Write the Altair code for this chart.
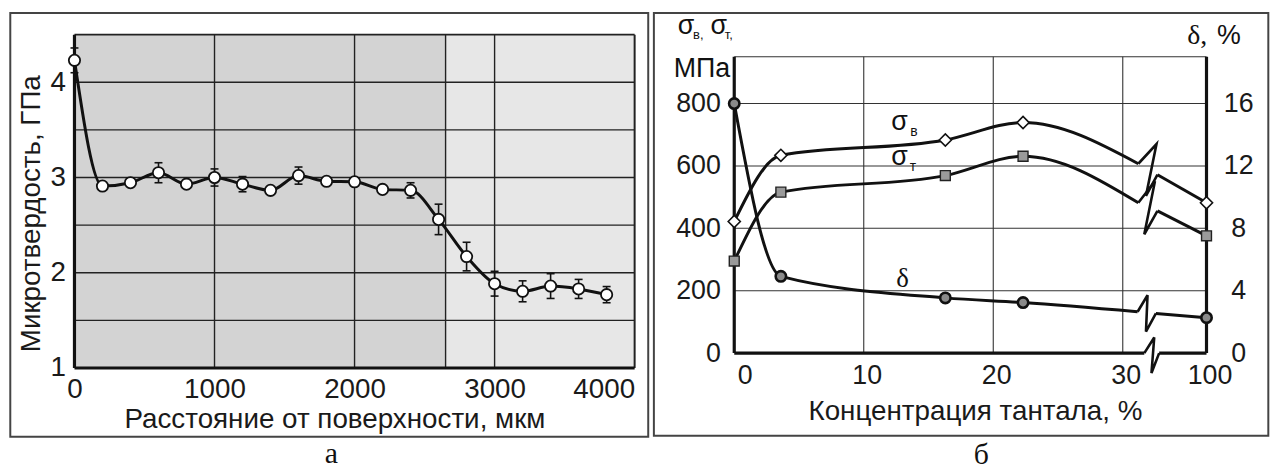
import altair as alt
import pandas as pd

FONT = "Liberation Sans"
SERIF = "Liberation Serif"
TXT = "#1a1a1a"

# ---------------- panel а : microhardness profile ----------------
dist = [0, 200, 400, 600, 800, 1000, 1200, 1400, 1600, 1800,
        2000, 2200, 2400, 2600, 2800, 3000, 3200, 3400, 3600, 3800]
hardness = [4.23, 2.91, 2.945, 3.05, 2.93, 3.00, 2.93, 2.865, 3.02, 2.96,
            2.955, 2.875, 2.865, 2.56, 2.17, 1.885, 1.805, 1.86, 1.83, 1.77]
hard_err = [0.13, 0.02, 0.02, 0.105, 0.02, 0.09, 0.08, 0.02, 0.09, 0.02,
            0.02, 0.03, 0.08, 0.16, 0.15, 0.13, 0.11, 0.13, 0.10, 0.085]
zone_start = [0, 2650]
zone_end = [2650, 4000]
zone_fill = ["#d3d3d3", "#e7e7e7"]
a_grid_y = [1.5, 2, 2.5, 3, 3.5, 4]
a_grid_x = [1000, 2000, 2650, 3000]
a_ticks_x = [0, 1000, 2000, 3000, 4000]
a_ticks_y = [1, 2, 3, 4]
a_xdom = [0, 4000]
a_ydom = [1, 4.5]

# ---------------- panel б : properties vs tantalum ----------------
conc = [0, 3.6, 16.3, 22.3, 100]
sigma_b = [422, 634, 683, 739, 482]
sigma_t = [295, 516, 569, 631, 376]
delta = [16.0, 4.92, 3.54, 3.24, 2.27]
# axis-break (zig-zag) vertices, in data units
brk_b_x = [43.0, 58.2, 49.4, 59.0]
brk_b_y = [607, 670, 504, 572]
brk_t_x = [43.0, 56.9, 48.0, 59.0]
brk_t_y = [482, 551, 381, 456]
brk_d_x = [42.4, 50.7, 49.4, 57.7]
brk_d_y = [2.65, 3.71, 1.38, 2.54]
brk_ax_x = [48.0, 56.3, 54.0, 60.4]
brk_ax_y = [0, 50, -64, 0]
b_grid_y = [200, 400, 600, 800]
b_grid_x = [10, 20, 30]
b_ticks_x = [0, 10, 20, 30, 100]
b_ticks_s = [0, 200, 400, 600, 800]
b_ticks_d = [0, 4, 8, 12, 16]
b_xdom = [0, 30, 100]
b_sdom = [0, 950]
b_ddom = [0, 19]

AW, AH = 564.6, 336
BW, BH = 476, 298.7
OFF = 22.3            # right plot sits lower than the left one
BH2 = BH + OFF
dummy = pd.DataFrame({"k": [0]})

# ---------- helpers panel а ----------
sc_ax = alt.Scale(domain=a_xdom, nice=False, zero=False)
sc_ay = alt.Scale(domain=a_ydom, nice=False, zero=False)
axis_ax = alt.Axis(values=a_ticks_x, format="d", grid=False, domain=False, ticks=False, labelFlush=False,
                   labelFont=FONT, labelFontSize=28, labelPadding=8, labelColor=TXT,
                   labelAlign={"condition": {"test": "datum.value === 4000", "value": "right"}, "value": "center"},
                   title="Расстояние от поверхности, мкм", titleFont=FONT, titleFontSize=28,
                   titleFontWeight="normal", titleColor=TXT, titleX=262, titleY=60,
                   titleAlign="center", titleBaseline="alphabetic")
axis_ay = alt.Axis(values=a_ticks_y, format="d", grid=False, domain=False, ticks=False,
                   labelFont=FONT, labelFontSize=28, labelPadding=9, labelColor=TXT,
                   title="Микротвердость, ГПа", titleFont=FONT, titleFontSize=28,
                   titleFontWeight="normal", titleColor=TXT, titleX=-35, titleY=180,
                   titleAngle=270, titleAlign="center", titleBaseline="alphabetic")


def AX(f):
    return alt.X(f, scale=sc_ax, axis=axis_ax)


def AY(f):
    return alt.Y(f, scale=sc_ay, axis=axis_ay)


df_a = pd.DataFrame({"dist": dist, "hv": hardness, "err": hard_err})
df_a["lo"] = df_a["hv"] - df_a["err"]
df_a["hi"] = df_a["hv"] + df_a["err"]
df_zone = pd.DataFrame({"s": zone_start, "e": zone_end, "c": zone_fill})

shade = alt.Chart(df_zone).mark_rect().encode(
    x=AX("s:Q"), x2="e:Q",
    y=alt.Y(datum=a_ydom[1], scale=sc_ay, axis=axis_ay), y2=alt.Y2(datum=a_ydom[0]),
    fill=alt.Fill("c:N", scale=None))
grid_ya = alt.Chart(pd.DataFrame({"v": a_grid_y})).mark_rule(color="#222", strokeWidth=1.4).encode(y=AY("v:Q"))
grid_xa = alt.Chart(pd.DataFrame({"v": a_grid_x})).mark_rule(color="#222", strokeWidth=1.4).encode(x=AX("v:Q"))
bord_top = alt.Chart(pd.DataFrame({"v": [a_ydom[1]]})).mark_rule(color="#222", strokeWidth=2).encode(y=AY("v:Q"))
bord_right = alt.Chart(pd.DataFrame({"v": [a_xdom[1]]})).mark_rule(color="#222", strokeWidth=2).encode(x=AX("v:Q"))
bord_left = alt.Chart(pd.DataFrame({"v": [a_xdom[0]]})).mark_rule(color="#111", strokeWidth=3.2).encode(x=AX("v:Q"))
bord_bot = alt.Chart(pd.DataFrame({"v": [a_ydom[0]]})).mark_rule(color="#111", strokeWidth=3.2).encode(y=AY("v:Q"))
line_a = alt.Chart(df_a).mark_line(interpolate="monotone", color="#111", strokeWidth=3).encode(x=AX("dist:Q"), y=AY("hv:Q"))
err_a = alt.Chart(df_a).mark_rule(color="#111", strokeWidth=1.6).encode(x=AX("dist:Q"), y=AY("lo:Q"), y2="hi:Q")
cap_lo = alt.Chart(df_a).mark_tick(orient="horizontal", size=8, thickness=1.6, color="#111", opacity=1).encode(x=AX("dist:Q"), y=AY("lo:Q"))
cap_hi = alt.Chart(df_a).mark_tick(orient="horizontal", size=8, thickness=1.6, color="#111", opacity=1).encode(x=AX("dist:Q"), y=AY("hi:Q"))
pts_a = alt.Chart(df_a).mark_point(shape="circle", filled=True, fill="white", stroke="#111",
                                   strokeWidth=1.8, size=130, opacity=1).encode(x=AX("dist:Q"), y=AY("hv:Q"))
box_a = alt.Chart(dummy).mark_rect(fill="white", fillOpacity=0, stroke="#444", strokeWidth=2).encode(
    x=alt.value(-64.7), x2=alt.value(578.3), y=alt.value(-21.7), y2=alt.value(405.3))
lab_a = alt.Chart(dummy).mark_text(text="а", font=SERIF, fontSize=30, color="#111",
                                   align="center", baseline="alphabetic").encode(x=alt.value(259), y=alt.value(432))

left = alt.layer(shade, grid_ya, grid_xa, bord_top, bord_right, bord_left, bord_bot,
                 line_a, err_a, cap_lo, cap_hi, pts_a, box_a, lab_a).properties(width=AW, height=AH)

# ---------- helpers panel б ----------
sc_bx = alt.Scale(domain=b_xdom, range=[0, 391.6, BW], nice=False, zero=False)
sc_s = alt.Scale(domain=b_sdom, range=[BH2, OFF], nice=False, zero=False)
sc_d = alt.Scale(domain=b_ddom, range=[BH2, OFF], nice=False, zero=False)
axis_bx = alt.Axis(values=b_ticks_x, format="d", grid=False, domain=False, ticks=False, labelFlush=False,
                   labelFont=FONT, labelFontSize=27, labelPadding=10, labelColor=TXT, labelOffset=3,
                   labelAlign={"condition": {"test": "datum.value === 0", "value": "left"}, "value": "center"},
                   title="Концентрация тантала, %", titleFont=FONT, titleFontSize=28,
                   titleFontWeight="normal", titleColor=TXT, titleX=242.6, titleY=66.6,
                   titleAlign="center", titleBaseline="alphabetic")
axis_s = alt.Axis(values=b_ticks_s, format="d", orient="left", grid=False, domain=False, ticks=False,
                  labelFont=FONT, labelFontSize=27, labelPadding=14, labelColor=TXT, title="")
axis_d = alt.Axis(values=b_ticks_d, format="d", orient="right", grid=False, domain=False, ticks=False,
                  labelFont=FONT, labelFontSize=27, labelPadding=32, labelAlign="center",
                  labelColor=TXT, title="")


def BX(f):
    return alt.X(f, scale=sc_bx, axis=axis_bx)


def BS(f):
    return alt.Y(f, scale=sc_s, axis=axis_s)


def BD(f):
    return alt.Y(f, scale=sc_d, axis=axis_d)


def pieces(xs, ys, bx, by, name):
    curve = pd.DataFrame({"x": xs[:4] + [bx[0]], "y": ys[:4] + [by[0]], "s": name})
    zig = pd.DataFrame({"x": bx, "y": by, "s": name, "i": list(range(len(bx)))})
    tail = pd.DataFrame({"x": [bx[-1], xs[4]], "y": [by[-1], ys[4]], "s": name})
    return curve, zig, tail


cb, zb, tb = pieces(conc, sigma_b, brk_b_x, brk_b_y, "b")
ct, zt, tt = pieces(conc, sigma_t, brk_t_x, brk_t_y, "t")
cd, zd, td = pieces(conc, delta, brk_d_x, brk_d_y, "d")
curve_s = pd.concat([cb, ct])
zig_s = pd.concat([zb, zt])
tail_s = pd.concat([tb, tt])
ax_left = pd.DataFrame({"x": [b_xdom[0], brk_ax_x[0]], "y": [0, 0]})
ax_zig = pd.DataFrame({"x": brk_ax_x, "y": brk_ax_y, "i": list(range(len(brk_ax_x)))})
ax_right = pd.DataFrame({"x": [brk_ax_x[-1], b_xdom[-1]], "y": [0, 0]})

S_TOP = alt.Y(datum=b_sdom[1], scale=sc_s, axis=axis_s)
S_BOT = alt.Y2(datum=b_sdom[0])

LW = 3
grid_yb = alt.Chart(pd.DataFrame({"v": b_grid_y})).mark_rule(color="#333", strokeWidth=1.1).encode(y=BS("v:Q"))
grid_xb = alt.Chart(pd.DataFrame({"v": b_grid_x})).mark_rule(color="#333", strokeWidth=1.1).encode(
    x=BX("v:Q"), y=S_TOP, y2=S_BOT)
top_b = alt.Chart(pd.DataFrame({"v": [b_sdom[1]]})).mark_rule(color="#333", strokeWidth=1.1).encode(y=BS("v:Q"))
left_b = alt.Chart(pd.DataFrame({"v": [b_xdom[0]]})).mark_rule(color="#111", strokeWidth=3.2).encode(
    x=BX("v:Q"), y=S_TOP, y2=S_BOT)
right_b = alt.Chart(pd.DataFrame({"v": [b_xdom[-1]]})).mark_rule(color="#111", strokeWidth=3.2).encode(
    x=BX("v:Q"), y=S_TOP, y2=S_BOT)
axl = alt.Chart(ax_left).mark_line(color="#111", strokeWidth=3.2).encode(x=BX("x:Q"), y=BS("y:Q"))
axz = alt.Chart(ax_zig).mark_line(color="#111", strokeWidth=2.6, strokeJoin="miter").encode(
    x=BX("x:Q"), y=BS("y:Q"), order=alt.Order("i:Q"))
axr = alt.Chart(ax_right).mark_line(color="#111", strokeWidth=3.2).encode(x=BX("x:Q"), y=BS("y:Q"))

ln_c = alt.Chart(curve_s).mark_line(interpolate="monotone", color="#111", strokeWidth=LW).encode(
    x=BX("x:Q"), y=BS("y:Q"), detail="s:N")
ln_z = alt.Chart(zig_s).mark_line(color="#111", strokeWidth=2.6, strokeJoin="miter").encode(
    x=BX("x:Q"), y=BS("y:Q"), detail="s:N", order=alt.Order("i:Q"))
ln_t = alt.Chart(tail_s).mark_line(color="#111", strokeWidth=LW).encode(x=BX("x:Q"), y=BS("y:Q"), detail="s:N")

pts_b = alt.Chart(pd.DataFrame({"x": conc, "y": sigma_b})).mark_point(
    shape="diamond", filled=True, fill="white", stroke="#111", strokeWidth=1.6, size=150, opacity=1).encode(
    x=BX("x:Q"), y=BS("y:Q"))
pts_t = alt.Chart(pd.DataFrame({"x": conc, "y": sigma_t})).mark_point(
    shape="square", filled=True, fill="#9a9a9a", stroke="#222", strokeWidth=1.4, size=100, opacity=1).encode(
    x=BX("x:Q"), y=BS("y:Q"))


def txt(s, x, y, size, font=FONT, align="left", baseline="middle"):
    return alt.Chart(dummy).mark_text(text=s, font=font, fontSize=size, color="#111",
                                      align=align, baseline=baseline).encode(x=alt.value(x), y=alt.value(y + OFF))


texts = [
    txt("σ", 158.3, 66, 27), txt("в", 177.3, 76, 14),
    txt("σ", 158.3, 101, 27), txt("т", 177.0, 111, 14),
    txt("δ", 163.3, 224, 27, font=SERIF),
    txt("σ", -57, -31, 27), txt("в,", -41.5, -22, 13),
    txt("σ", -24, -31, 27), txt("т,", -9.5, -22, 13),
    txt("МПа", -61, 12, 27),
    txt("δ,", 456.6, -21, 28, font=SERIF), txt("%", 486.6, -21, 27),
    txt("б", 249, 410, 30, font=SERIF, align="center", baseline="alphabetic"),
]
box_b = alt.Chart(dummy).mark_rect(fill="white", fillOpacity=0, stroke="#444", strokeWidth=2).encode(
    x=alt.value(-81), x2=alt.value(538.3), y=alt.value(-44 + OFF), y2=alt.value(382 + OFF))

sig_group = alt.layer(grid_yb, grid_xb, top_b, left_b, right_b, axl, axz, axr,
                      ln_c, ln_z, ln_t, pts_b, pts_t, box_b, *texts)

d_c = alt.Chart(cd).mark_line(interpolate="monotone", color="#111", strokeWidth=LW).encode(x=BX("x:Q"), y=BD("y:Q"))
d_z = alt.Chart(zd).mark_line(color="#111", strokeWidth=2.6, strokeJoin="miter").encode(
    x=BX("x:Q"), y=BD("y:Q"), order=alt.Order("i:Q"))
d_t = alt.Chart(td).mark_line(color="#111", strokeWidth=LW).encode(x=BX("x:Q"), y=BD("y:Q"))
d_p = alt.Chart(pd.DataFrame({"x": conc, "y": delta})).mark_point(
    shape="circle", filled=True, fill="#8a8a8a", stroke="#111", strokeWidth=2.6, size=110, opacity=1).encode(
    x=BX("x:Q"), y=BD("y:Q"))
del_group = alt.layer(d_c, d_z, d_t, d_p)

right = alt.layer(sig_group, del_group).resolve_scale(y="independent").properties(width=BW, height=BH2)

chart = alt.hconcat(left, right, spacing=2,
                    padding={"left": 0, "top": 1, "right": 0, "bottom": 0}).configure_view(stroke="transparent")

chart.save("out.html", embed_options={"renderer": "svg", "actions": False})
